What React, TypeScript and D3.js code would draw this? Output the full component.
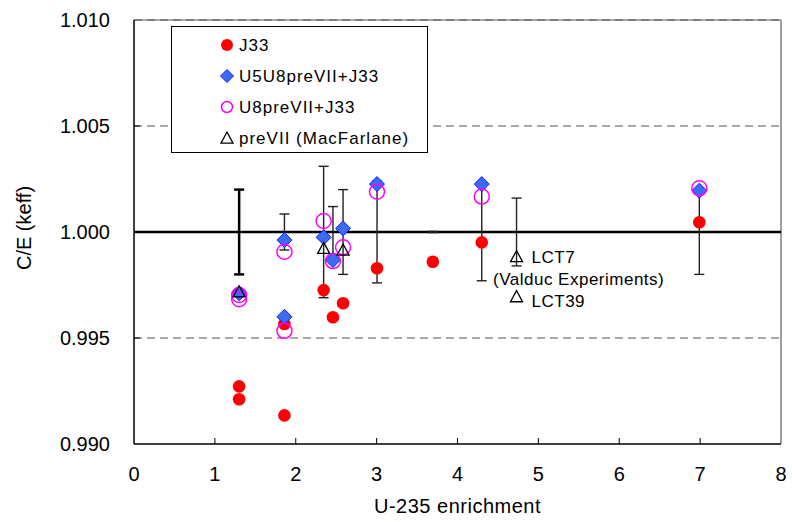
import { useEffect, useRef } from "react";
import * as d3 from "d3";

// J33 results
const xJ33 = [1.30, 1.30, 1.86, 1.86, 2.345, 2.46, 2.585, 3.005, 3.695, 4.30, 6.99];
const j33 = [0.99272, 0.99211, 0.99135, 0.99566, 0.99726, 0.99598, 0.99664, 0.99829, 0.9986, 0.99951, 1.00046];

// U5U8preVII+J33
const xU5U8 = [1.30, 1.86, 1.86, 2.345, 2.46, 2.585, 3.005, 4.30, 6.99];
const u5u8 = [0.99711, 0.99962, 0.9960, 0.99975, 0.99868, 1.00017, 1.00226, 1.00226, 1.00195];

// U8preVII+J33
const xU8 = [1.30, 1.30, 1.86, 1.86, 2.345, 2.46, 2.585, 3.005, 4.30, 6.99];
const u8 = [0.99703, 0.99683, 0.99907, 0.99534, 1.00052, 0.99863, 0.99928, 1.0019, 1.00167, 1.00206];

// preVII (MacFarlane)
const xPre = [1.30, 2.345, 2.585, 4.73, 4.73];
const preVII = [0.99718, 0.99923, 0.99915, 0.99884, 0.99695];

// experimental uncertainty, centred on 1.000
const xErr = [1.30, 1.86, 2.345, 2.46, 2.585, 3.005, 3.695, 4.30, 4.73, 6.99];
const expErr = [0.0020, 0.00085, 0.0031, 0.0012, 0.0020, 0.0024, 0.00003, 0.0023, 0.0016, 0.0020];

const xTicks = [0, 1, 2, 3, 4, 5, 6, 7, 8];
const yTicks = [0.990, 0.995, 1.000, 1.005, 1.010];

const legendNames = ["J33", "U5U8preVII+J33", "U8preVII+J33", "preVII (MacFarlane)"];

const font = "'Liberation Sans', Arial, sans-serif";

const diamond = (s: number) => `M0,${-s}L${s},0L0,${s}L${-s},0Z`;
const triangle = (s: number) => `M0,${-s}L${s},${s * 0.85}L${-s},${s * 0.85}Z`;

export default function App() {
  const ref = useRef<SVGSVGElement>(null);

  useEffect(() => {
    const width = 792;
    const height = 522;
    const left = 134, right = 781, top = 20, bottom = 444;

    const x = d3.scaleLinear().domain([0, 8]).range([left, right]);
    const y = d3.scaleLinear().domain([0.99, 1.01]).range([bottom, top]);

    const svg = d3.select(ref.current)
      .attr("width", width)
      .attr("height", height);
    svg.selectAll("*").remove();

    svg.append("rect").attr("width", width).attr("height", height).attr("fill", "white");

    // frame: grey top/right
    svg.append("line").attr("x1", left).attr("x2", right).attr("y1", top).attr("y2", top)
      .attr("stroke", "#8c8c8c").attr("stroke-width", 1.5);
    svg.append("line").attr("x1", right).attr("x2", right).attr("y1", top).attr("y2", bottom)
      .attr("stroke", "#808080").attr("stroke-width", 1.5);

    // dashed grid lines
    svg.append("g")
      .selectAll("line")
      .data([0.995, 1.005, 1.010])
      .join("line")
      .attr("x1", left).attr("x2", right)
      .attr("y1", d => y(d)).attr("y2", d => y(d))
      .attr("stroke", "#555")
      .attr("stroke-width", 1.2)
      .attr("stroke-dasharray", "8,5");

    // 1.000 reference line
    svg.append("line").attr("x1", left).attr("x2", right).attr("y1", y(1)).attr("y2", y(1))
      .attr("stroke", "black").attr("stroke-width", 2.5);

    // axes
    svg.append("line").attr("x1", left).attr("x2", left).attr("y1", top).attr("y2", bottom)
      .attr("stroke", "black").attr("stroke-width", 1.5);
    svg.append("line").attr("x1", left).attr("x2", right).attr("y1", bottom).attr("y2", bottom)
      .attr("stroke", "black").attr("stroke-width", 1.5);

    svg.append("g")
      .selectAll("line")
      .data(xTicks.slice(1, -1))
      .join("line")
      .attr("x1", d => x(d)).attr("x2", d => x(d))
      .attr("y1", bottom).attr("y2", bottom - 6)
      .attr("stroke", "black");
    svg.append("g")
      .selectAll("line")
      .data(yTicks.slice(1, -1))
      .join("line")
      .attr("x1", left).attr("x2", left + 6)
      .attr("y1", d => y(d)).attr("y2", d => y(d))
      .attr("stroke", "black");

    svg.append("g")
      .attr("font-family", font)
      .attr("font-size", 20)
      .attr("text-anchor", "middle")
      .selectAll("text")
      .data(xTicks)
      .join("text")
      .attr("x", d => x(d))
      .attr("y", bottom + 37)
      .text(d => d);

    svg.append("g")
      .attr("font-family", font)
      .attr("font-size", 20)
      .attr("text-anchor", "end")
      .selectAll("text")
      .data(yTicks)
      .join("text")
      .attr("x", 110)
      .attr("y", d => y(d) + 7)
      .text(d => d3.format(".3f")(d));

    svg.append("text")
      .attr("font-family", font).attr("font-size", 20)
      .attr("text-anchor", "middle")
      .attr("x", (left + right) / 2).attr("y", 513)
      .attr("letter-spacing", 0.5)
      .text("U-235 enrichment");

    svg.append("text")
      .attr("font-family", font).attr("font-size", 20)
      .attr("text-anchor", "middle")
      .attr("transform", `translate(31,228) rotate(-90)`)
      .text("C/E (keff)");

    // error bars
    const eb = svg.append("g")
      .selectAll("g")
      .data(xErr)
      .join("g")
      .attr("stroke", (_, i) => i === 0 ? "black" : "#222")
      .attr("stroke-width", (_, i) => i === 0 ? 2.5 : 1.4);
    eb.append("line")
      .attr("x1", d => x(d)).attr("x2", d => x(d))
      .attr("y1", (_, i) => y(1 + expErr[i])).attr("y2", (_, i) => y(1 - expErr[i]));
    [1, -1].forEach(sgn => {
      eb.append("line")
        .attr("x1", d => x(d) - 5).attr("x2", d => x(d) + 5)
        .attr("y1", (_, i) => y(1 + sgn * expErr[i])).attr("y2", (_, i) => y(1 + sgn * expErr[i]));
    });

    // J33
    svg.append("g")
      .selectAll("circle")
      .data(xJ33)
      .join("circle")
      .attr("cx", d => x(d))
      .attr("cy", (_, i) => y(j33[i]))
      .attr("r", 6.3)
      .attr("fill", "#ff0000");

    // U5U8preVII+J33
    svg.append("g")
      .selectAll("path")
      .data(xU5U8)
      .join("path")
      .attr("transform", (d, i) => `translate(${x(d)},${y(u5u8[i])})`)
      .attr("d", diamond(7.5))
      .attr("fill", "#3a6cf4")
      .attr("stroke", "#1a1aff")
      .attr("stroke-width", 1);

    // U8preVII+J33
    svg.append("g")
      .selectAll("circle")
      .data(xU8)
      .join("circle")
      .attr("cx", d => x(d))
      .attr("cy", (_, i) => y(u8[i]))
      .attr("r", 7.5)
      .attr("fill", "none")
      .attr("stroke", "#ff00ff")
      .attr("stroke-width", 1.5);

    // preVII
    svg.append("g")
      .selectAll("path")
      .data(xPre)
      .join("path")
      .attr("transform", (d, i) => `translate(${x(d)},${y(preVII[i])})`)
      .attr("d", triangle(6))
      .attr("fill", "none")
      .attr("stroke", "black")
      .attr("stroke-width", 1.3);

    // Valduc annotations
    const ann = svg.append("g")
      .attr("font-family", font)
      .attr("font-size", 17)
      .attr("letter-spacing", 0.5);
    ann.append("text").attr("x", x(4.73) + 15).attr("y", 263).text("LCT7");
    ann.append("text").attr("x", 493).attr("y", 285).text("(Valduc Experiments)");
    ann.append("text").attr("x", x(4.73) + 15).attr("y", 307).text("LCT39");

    // legend
    const lg = svg.append("g");
    lg.append("rect")
      .attr("x", 171.5).attr("y", 26.5)
      .attr("width", 256).attr("height", 126)
      .attr("fill", "white")
      .attr("stroke", "black")
      .attr("stroke-width", 1);
    const rows = lg.selectAll("g.row")
      .data(legendNames)
      .join("g")
      .attr("class", "row")
      .attr("transform", (_, i) => `translate(227,${45 + i * 31})`);
    rows.filter((_, i) => i === 0).append("circle").attr("r", 6).attr("fill", "#ff0000");
    rows.filter((_, i) => i === 1).append("path").attr("d", diamond(6.5))
      .attr("fill", "#3a6cf4").attr("stroke", "#1a1aff");
    rows.filter((_, i) => i === 2).append("circle").attr("r", 5.5)
      .attr("fill", "none").attr("stroke", "#ff00ff").attr("stroke-width", 1.5);
    rows.filter((_, i) => i === 3).append("path").attr("d", triangle(6))
      .attr("fill", "none").attr("stroke", "black").attr("stroke-width", 1.3);
    rows.append("text")
      .attr("x", 12)
      .attr("y", 6)
      .attr("font-family", font)
      .attr("font-size", 17)
      .attr("letter-spacing", 1)
      .text(d => d);
  }, []);

  return <svg ref={ref} style={{ position: "absolute", left: 0, top: 0, display: "block" }} />;
}
